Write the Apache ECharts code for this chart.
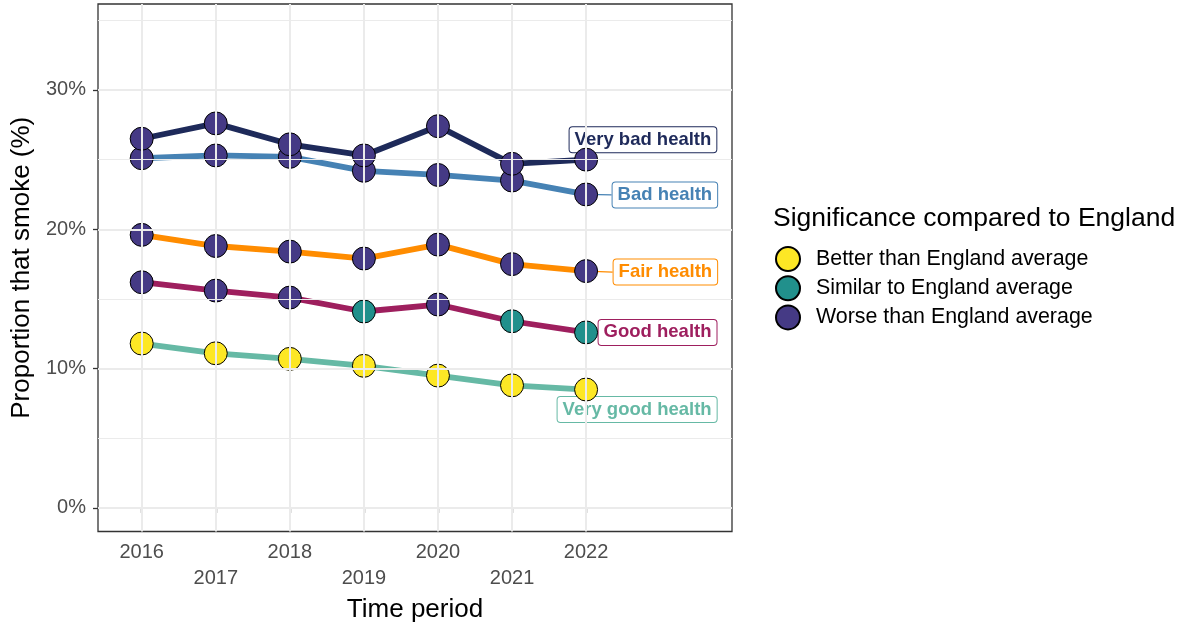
<!DOCTYPE html>
<html>
<head>
<meta charset="utf-8">
<script src="https://cdn.jsdelivr.net/npm/echarts@6/dist/echarts.min.js"></script>
<style>
html,body{margin:0;padding:0;background:#fff;}
#chart{width:1189px;height:623px;}
</style>
</head>
<body>
<div id="chart"></div>
<script>
// ---- data ----
const years = [2016, 2017, 2018, 2019, 2020, 2021, 2022];
const categories = ['Very bad health', 'Bad health', 'Fair health', 'Good health', 'Very good health'];
const veryBadHealth  = [26.5, 27.6, 26.1, 25.3, 27.4, 24.7, 25.0];
const badHealth      = [25.1, 25.3, 25.2, 24.2, 23.9, 23.5, 22.5];
const fairHealth     = [19.6, 18.8, 18.4, 17.9, 18.9, 17.5, 17.0];
const goodHealth     = [16.2, 15.6, 15.1, 14.1, 14.6, 13.4, 12.6];
const veryGoodHealth = [11.8, 11.1, 10.7, 10.2, 9.5, 8.8, 8.5];
// significance: B = better, S = similar, W = worse
const sigVeryBad  = ['W', 'W', 'W', 'W', 'W', 'W', 'W'];
const sigBad      = ['W', 'W', 'W', 'W', 'W', 'W', 'W'];
const sigFair     = ['W', 'W', 'W', 'W', 'W', 'W', 'W'];
const sigGood     = ['W', 'W', 'W', 'S', 'W', 'S', 'S'];
const sigVeryGood = ['B', 'B', 'B', 'B', 'B', 'B', 'B'];
const sigNames = {B: 'Better than England average', S: 'Similar to England average', W: 'Worse than England average'};
const yTicks = [0, 10, 20, 30];
const yMinor = [5, 15, 25, 35];

// ---- styles ----
const lineColors = {
  'Very bad health': '#1e2a5a',
  'Bad health': '#4682b4',
  'Fair health': '#ff8c00',
  'Good health': '#9e1f5e',
  'Very good health': '#66b9a5'
};
const sigColors = {B: '#fde725', S: '#21908c', W: '#453a85'};
const labelOffsets = {
  'Very bad health': {dx: -17, dy: -20, line: false},
  'Bad health': {dx: 26, dy: 0.5, line: true},
  'Fair health': {dx: 27, dy: 1, line: true},
  'Good health': {dx: 12, dy: 0, line: true},
  'Very good health': {dx: -29, dy: 20, line: false}
};

const seriesValues = {
  'Very bad health': veryBadHealth,
  'Bad health': badHealth,
  'Fair health': fairHealth,
  'Good health': goodHealth,
  'Very good health': veryGoodHealth
};
const seriesSig = {
  'Very bad health': sigVeryBad,
  'Bad health': sigBad,
  'Fair health': sigFair,
  'Good health': sigGood,
  'Very good health': sigVeryGood
};

const FONT = 'Liberation Sans, Arial, sans-serif';
const series = [];

// gridlines
series.push({
  type: 'line', name: '_grid', data: [], z: 0, silent: true,
  markLine: {
    silent: true, symbol: ['none', 'none'], label: {show: false}, animation: false,
    data: [].concat(
      years.map(y => ({xAxis: y, lineStyle: {color: '#ebebeb', width: 2, type: 'solid'}})),
      yTicks.map(v => ({yAxis: v, lineStyle: {color: '#ebebeb', width: 2, type: 'solid'}})),
      yMinor.map(v => ({yAxis: v, lineStyle: {color: '#ebebeb', width: 1, type: 'solid'}}))
    )
  }
});

// lines
categories.forEach(cat => {
  const vals = seriesValues[cat];
  const off = labelOffsets[cat];
  const col = lineColors[cat];
  series.push({
    type: 'line', name: cat, z: 2,
    symbol: 'circle', symbolSize: 1, showSymbol: true,
    itemStyle: {color: 'rgba(0,0,0,0)', borderWidth: 0},
    lineStyle: {color: col, width: 5.8},
    animation: false,
    data: vals.map((v, i) => {
      const item = {value: [years[i], v]};
      if (i === vals.length - 1) {
        item.label = {
          show: true, position: 'right', distance: 0,
          formatter: cat,
          color: col, fontFamily: FONT, fontWeight: 'bold', fontSize: 18.5, lineHeight: 19,
          backgroundColor: '#fff', borderColor: col, borderWidth: 1, borderRadius: 3,
          padding: [3, 5, 3, 5], opacity: 1
        };
      }
      return item;
    }),
    label: {show: false},
    labelLayout: {dx: off.dx, dy: off.dy},
    labelLine: {show: off.line, smooth: false, lineStyle: {color: col, width: 1.3}}
  });
});

// points by significance
['B', 'S', 'W'].forEach(s => {
  const pts = [];
  categories.slice().reverse().forEach(cat => {
    const vals = seriesValues[cat];
    const sig = seriesSig[cat];
    vals.forEach((v, i) => { if (sig[i] === s) pts.push([years[i], v]); });
  });
  series.push({
    type: 'scatter', name: sigNames[s], z: 3, animation: false,
    symbol: 'circle', symbolSize: 23,
    itemStyle: {color: sigColors[s], borderColor: '#000', borderWidth: 1, opacity: 1},
    data: pts
  });
});

const chart = echarts.init(document.getElementById('chart'), null, {renderer: 'canvas'});
chart.setOption({
  backgroundColor: '#fff',
  animation: false,
  title: {
    text: 'Significance compared to England', left: 773, top: 205, padding: 0,
    textStyle: {fontFamily: FONT, fontSize: 26.5, fontWeight: 'normal', color: '#000'}
  },
  legend: {
    data: [sigNames.B, sigNames.S, sigNames.W],
    orient: 'vertical', left: 775, top: 246, padding: 0,
    itemWidth: 24, itemHeight: 24, itemGap: 3.2,
    icon: 'circle',
    textStyle: {fontFamily: FONT, fontSize: 21.4, color: '#000', padding: [0, 0, 0, 11]}
  },
  grid: {
    left: 98, top: 4, width: 634, height: 527.5,
    outerBoundsMode: 'none', containLabel: false,
    show: true, borderColor: '#333', borderWidth: 1.3, backgroundColor: 'transparent'
  },
  xAxis: {
    type: 'value', min: 2015.41, max: 2023.97,
    name: 'Time period', nameLocation: 'middle', nameGap: 60,
    nameTextStyle: {fontFamily: FONT, fontSize: 26, color: '#000'},
    axisLine: {show: false},
    axisTick: {show: true, customValues: years, length: 5, lineStyle: {color: '#333', width: 1.3}},
    axisLabel: {
      customValues: years, margin: 8,
      fontFamily: FONT, fontSize: 20, color: '#4d4d4d', lineHeight: 26,
      formatter: v => (v % 2 === 1 ? '\n' + v : String(v))
    },
    splitLine: {show: false}
  },
  yAxis: {
    type: 'value', min: -1.69, max: 36.17,
    name: 'Proportion that smoke (%)', nameLocation: 'middle', nameGap: 62, nameRotate: 90,
    nameTextStyle: {fontFamily: FONT, fontSize: 26, color: '#000'},
    axisLine: {show: false},
    axisTick: {show: true, customValues: yTicks, length: 5, lineStyle: {color: '#333', width: 1.3}},
    axisLabel: {
      customValues: yTicks, margin: 12,
      fontFamily: FONT, fontSize: 20, color: '#4d4d4d',
      formatter: v => v + '%'
    },
    splitLine: {show: false}
  },
  series: series
});
</script>
</body>
</html>
